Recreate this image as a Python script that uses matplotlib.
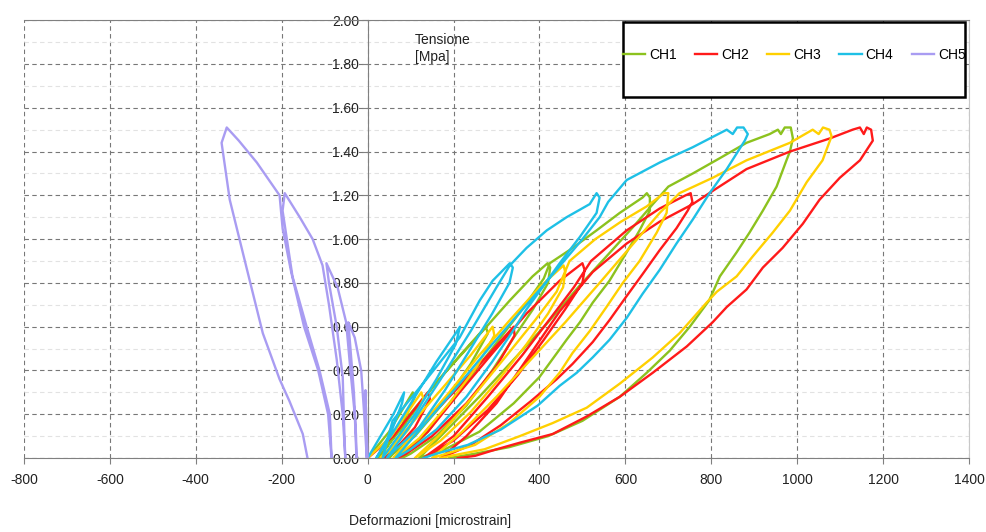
import numpy as np
import matplotlib
matplotlib.use('Agg')
import matplotlib.pyplot as plt
from matplotlib.patches import Rectangle

plt.rcParams['font.family'] = ['Liberation Sans', 'DejaVu Sans']

# stress-strain loops (strain in microstrain, stress in MPa)
ch1 = [(0, 0), (50, 0.12), (105, 0.3), (110, 0.28), (80, 0.15), (40, 0.04), (25, 0),
       (80, 0.14), (150, 0.32), (220, 0.48), (275, 0.6), (280, 0.57), (240, 0.43), (180, 0.26), (110, 0.1), (60, 0.02), (50, 0),
       (98, 0.2), (175, 0.38), (254, 0.55), (331, 0.72), (384, 0.83), (419, 0.89), (425, 0.87), (420, 0.8), (385, 0.68),
       (340, 0.55), (290, 0.4), (230, 0.24), (160, 0.1), (100, 0.02), (80, 0),
       (140, 0.12), (210, 0.3), (290, 0.5), (360, 0.68), (410, 0.82), (424, 0.89), (470, 0.95), (533, 1.04), (587, 1.12),
       (640, 1.19), (650, 1.21), (657, 1.19), (657, 1.13), (633, 1.04), (603, 0.94), (563, 0.81), (524, 0.71), (494, 0.62),
       (463, 0.54), (400, 0.37), (340, 0.25), (260, 0.12), (180, 0.04), (120, 0),
       (180, 0.12), (260, 0.28), (340, 0.45), (420, 0.62), (490, 0.78), (560, 0.93), (620, 1.06), (664, 1.16), (700, 1.24),
       (757, 1.3), (820, 1.37), (882, 1.44), (936, 1.48), (955, 1.5), (962, 1.48), (971, 1.51), (985, 1.51), (990, 1.46),
       (983, 1.4), (975, 1.36), (952, 1.24), (920, 1.13), (889, 1.03), (859, 0.94), (820, 0.83), (795, 0.72), (750, 0.6),
       (703, 0.49), (650, 0.39), (587, 0.28), (500, 0.17), (420, 0.1), (330, 0.05), (250, 0.02), (190, 0)]

ch2 = [(0, 0), (60, 0.1), (140, 0.3), (145, 0.27), (110, 0.14), (60, 0.03), (40, 0),
       (110, 0.12), (200, 0.3), (280, 0.47), (340, 0.6), (342, 0.56), (300, 0.42), (230, 0.25), (150, 0.1), (90, 0.02), (70, 0),
       (140, 0.12), (214, 0.3), (291, 0.48), (370, 0.66), (447, 0.81), (500, 0.89), (505, 0.86), (500, 0.8), (460, 0.68),
       (410, 0.54), (350, 0.38), (280, 0.22), (200, 0.08), (130, 0),
       (200, 0.1), (280, 0.28), (360, 0.47), (430, 0.65), (480, 0.78), (520, 0.9), (603, 1.04), (680, 1.14), (740, 1.2),
       (752, 1.21), (756, 1.17), (745, 1.13), (719, 1.05), (680, 0.95), (640, 0.84), (603, 0.74), (563, 0.63), (524, 0.53),
       (477, 0.43), (440, 0.36), (380, 0.26), (310, 0.15), (240, 0.06), (170, 0),
       (230, 0.1), (300, 0.25), (370, 0.45), (447, 0.67), (524, 0.85), (603, 0.98), (680, 1.08), (757, 1.16), (803, 1.22),
       (882, 1.32), (983, 1.4), (1076, 1.46), (1129, 1.5), (1146, 1.51), (1155, 1.48), (1162, 1.51), (1172, 1.5), (1176, 1.45),
       (1146, 1.36), (1099, 1.28), (1052, 1.18), (1013, 1.07), (966, 0.96), (920, 0.87), (882, 0.77), (836, 0.69), (803, 0.62),
       (743, 0.51), (664, 0.39), (587, 0.28), (510, 0.19), (431, 0.11), (354, 0.07), (300, 0.04), (250, 0.01), (210, 0)]

ch3 = [(0, 0), (55, 0.1), (125, 0.3), (130, 0.27), (95, 0.13), (50, 0.03), (30, 0),
       (90, 0.13), (170, 0.31), (240, 0.47), (291, 0.6), (295, 0.56), (255, 0.42), (190, 0.25), (120, 0.09), (70, 0.01), (60, 0),
       (120, 0.14), (190, 0.3), (260, 0.47), (331, 0.63), (400, 0.78), (456, 0.88), (460, 0.85), (455, 0.78), (420, 0.66),
       (370, 0.52), (310, 0.37), (240, 0.21), (170, 0.08), (110, 0),
       (170, 0.11), (245, 0.28), (320, 0.46), (390, 0.63), (440, 0.76), (470, 0.9), (530, 1.0), (590, 1.08), (650, 1.15),
       (690, 1.21), (700, 1.21), (698, 1.17), (696, 1.12), (673, 1.03), (633, 0.9), (594, 0.8), (556, 0.69), (517, 0.58),
       (477, 0.48), (447, 0.39), (400, 0.28), (330, 0.16), (250, 0.06), (150, 0),
       (220, 0.12), (300, 0.28), (380, 0.45), (460, 0.62), (540, 0.8), (610, 0.96), (680, 1.12), (726, 1.21), (803, 1.28),
       (882, 1.36), (983, 1.44), (1036, 1.5), (1050, 1.48), (1060, 1.51), (1075, 1.5), (1080, 1.47), (1059, 1.36), (1022, 1.26),
       (983, 1.13), (943, 1.03), (896, 0.92), (859, 0.83), (813, 0.76), (789, 0.71), (726, 0.57), (664, 0.46), (587, 0.34),
       (510, 0.23), (431, 0.16), (354, 0.1), (272, 0.04), (193, 0.01), (170, 0)]

ch4 = [(0, 0), (30, 0.1), (60, 0.2), (85, 0.3), (80, 0.25), (55, 0.12), (20, 0),
       (60, 0.12), (110, 0.28), (160, 0.44), (205, 0.57), (215, 0.6), (205, 0.52), (160, 0.36), (110, 0.2), (60, 0.07), (35, 0),
       (58, 0.17), (137, 0.36), (214, 0.55), (261, 0.72), (291, 0.81), (331, 0.89), (338, 0.87), (330, 0.8), (290, 0.66),
       (240, 0.5), (180, 0.31), (120, 0.14), (60, 0.03), (45, 0),
       (100, 0.15), (170, 0.36), (240, 0.58), (300, 0.78), (331, 0.88), (370, 0.96), (417, 1.04), (463, 1.1), (517, 1.16),
       (533, 1.21), (540, 1.19), (533, 1.12), (494, 1.01), (447, 0.89), (407, 0.78), (370, 0.68), (338, 0.58), (290, 0.44),
       (230, 0.28), (160, 0.13), (100, 0.04), (65, 0),
       (130, 0.15), (210, 0.33), (290, 0.52), (370, 0.7), (440, 0.86), (500, 1.0), (540, 1.1), (560, 1.17), (603, 1.27),
       (680, 1.35), (757, 1.42), (836, 1.5), (850, 1.48), (860, 1.51), (875, 1.51), (885, 1.48), (878, 1.45), (836, 1.32),
       (796, 1.21), (757, 1.09), (719, 0.98), (680, 0.86), (640, 0.75), (603, 0.64), (563, 0.54), (524, 0.46), (487, 0.39),
       (447, 0.33), (396, 0.24), (310, 0.13), (233, 0.06), (160, 0.02), (130, 0)]

ch5 = [(0, 0), (-3, 0.15), (-5, 0.31), (-4, 0.15), (-2, 0),
       (-8, 0.2), (-15, 0.4), (-30, 0.55), (-45, 0.62), (-40, 0.5), (-32, 0.3), (-27, 0.1), (-26, 0),
       (-30, 0.2), (-40, 0.4), (-50, 0.62), (-70, 0.78), (-96, 0.89), (-90, 0.8), (-72, 0.6), (-58, 0.37), (-54, 0.1), (-52, 0),
       (-58, 0.2), (-72, 0.45), (-90, 0.7), (-105, 0.88), (-128, 1.0), (-158, 1.1), (-193, 1.21), (-198, 1.13), (-175, 0.83),
       (-142, 0.6), (-112, 0.4), (-88, 0.2), (-84, 0),
       (-92, 0.2), (-115, 0.4), (-148, 0.6), (-178, 0.85), (-198, 1.05), (-205, 1.2), (-258, 1.35), (-300, 1.45), (-328, 1.51),
       (-340, 1.44), (-321, 1.18), (-282, 0.87), (-244, 0.57), (-205, 0.36), (-182, 0.26), (-151, 0.11), (-140, 0)]

names = ['CH1', 'CH2', 'CH3', 'CH4', 'CH5']
colors = ['#8CC21E', '#FF1A1A', '#FFD000', '#1EC0E6', '#A99CF2']
x_ticks = list(range(-800, 1401, 200))
y_ticks = [0.0, 0.2, 0.4, 0.6, 0.8, 1.0, 1.2, 1.4, 1.6, 1.8, 2.0]

fig = plt.figure(figsize=(9.87, 5.32), dpi=100)
ax = fig.add_axes([0.0243, 0.139, 0.9575, 0.823])

lines = []
for data, name, c in zip([ch1, ch2, ch3, ch4, ch5], names, colors):
    arr = np.array(data)
    ln, = ax.plot(arr[:, 0], arr[:, 1], color=c, lw=1.7, label=name, zorder=3,
                  solid_joinstyle='round')
    lines.append(ln)

ax.set_xlim(-800, 1400)
ax.set_ylim(0, 2)
ax.set_xticks(x_ticks)
ax.set_xticklabels([str(v) for v in x_ticks])
ax.set_yticks(y_ticks)
ax.set_yticklabels(['%.2f' % v for v in y_ticks])
ax.set_yticks(np.arange(0.1, 2.0, 0.2), minor=True)

ax.spines['left'].set_position(('data', 0))
for s in ['left', 'bottom', 'top']:
    ax.spines[s].set_color('#808080')
ax.spines['right'].set_color('#c8c8c8')

ax.tick_params(axis='both', labelsize=10, colors='#222222')
ax.tick_params(axis='x', length=4, pad=7, color='#808080')
ax.tick_params(axis='y', length=4, pad=2, color='#808080')
ax.tick_params(axis='y', which='minor', length=0)

ax.grid(True, which='major', color='#777777', linestyle=(0, (4, 3)), lw=0.8)
ax.grid(True, which='minor', axis='y', color='#e2e2e2', linestyle=(0, (4, 3)), lw=0.8)
ax.set_axisbelow(True)

ax.text(110, 1.94, 'Tensione\n[Mpa]', fontsize=10, va='top', ha='left', color='#222222')
fig.text(430 / 987, 1 - 521 / 532, 'Deformazioni [microstrain]', fontsize=10,
         ha='center', va='center', color='#222222')

# legend box
box = Rectangle((0.634, 0.824), 0.362, 0.171, transform=ax.transAxes,
                facecolor='white', edgecolor='black', lw=1.8, zorder=4)
ax.add_patch(box)
leg = ax.legend(handles=lines, loc='center', bbox_to_anchor=(0.815, 0.92), ncol=5,
                frameon=False, fontsize=10, handlelength=1.6, handletextpad=0.3,
                columnspacing=1.3)
leg.set_zorder(5)

fig.savefig('out.png', dpi=100)
